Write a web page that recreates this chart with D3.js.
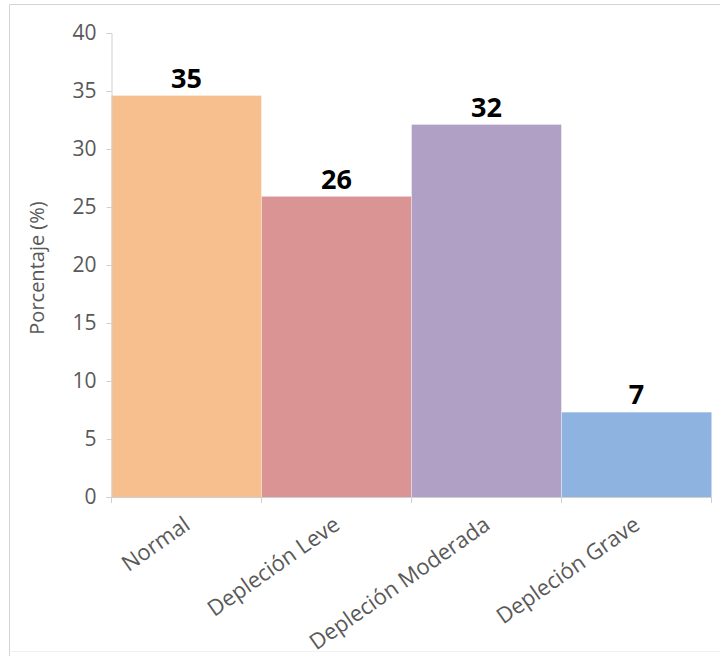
<!DOCTYPE html>
<html>
<head>
<meta charset="utf-8">
<script src="https://cdn.jsdelivr.net/npm/d3@7"></script>
<style>
  html, body { margin: 0; padding: 0; background: #fff; }
  svg { display: block; }
</style>
</head>
<body>
<svg id="chart" width="720" height="656"></svg>
<script>
const categories = ["Normal", "Depleción Leve", "Depleción Moderada", "Depleción Grave"];
const values = [34.6, 25.9, 32.1, 7.3];
const valueLabels = ["35", "26", "32", "7"];
const colors = ["#F8BF8E", "#D99493", "#B1A0C6", "#8EB3E1"];
const yTicks = [0, 5, 10, 15, 20, 25, 30, 35, 40];
const yTitle = "Porcentaje (%)";

const svg = d3.select("#chart");
const font = "'Open Sans', 'Noto Sans', sans-serif";

// outer frame
svg.append("line").attr("x1", 9.5).attr("x2", 720).attr("y1", 4.5).attr("y2", 4.5).attr("stroke", "#d4d4d4");
svg.append("line").attr("x1", 9.5).attr("x2", 9.5).attr("y1", 4.5).attr("y2", 656).attr("stroke", "#d4d4d4");
svg.append("line").attr("x1", 9.5).attr("x2", 720).attr("y1", 651.5).attr("y2", 651.5).attr("stroke", "#f0f0f0");

const x0 = 111.5, x1 = 711.5, yTop = 33, yBot = 497;
const x = d3.scaleBand().domain(categories).range([x0, x1]).padding(0);
const y = d3.scaleLinear().domain([0, 40]).range([yBot, yTop]);

// bars
svg.selectAll("rect.bar").data(categories).enter().append("rect")
  .attr("class", "bar")
  .attr("x", d => x(d))
  .attr("width", x.bandwidth())
  .attr("y", (d, i) => y(values[i]))
  .attr("height", (d, i) => y(0) - y(values[i]))
  .attr("fill", (d, i) => colors[i]);

// separating light lines between bars
svg.selectAll("line.sep").data(categories.slice(1)).enter().append("line")
  .attr("x1", d => x(d)).attr("x2", d => x(d))
  .attr("y1", (d, i) => Math.min(y(values[i]), y(values[i + 1])))
  .attr("y2", yBot)
  .attr("stroke", "#ffffff").attr("stroke-opacity", 0.4).attr("stroke-width", 1);

// y axis
const yAxis = d3.axisLeft(y).tickValues(yTicks).tickSize(5).tickPadding(10);
const gy = svg.append("g").attr("transform", `translate(${x0},0)`).call(yAxis);
gy.select(".domain").attr("stroke", "#d0d0d0");
gy.selectAll(".tick line").attr("stroke", "#d0d0d0");
gy.selectAll(".tick text").attr("fill", "#595959").style("font-family", font).style("font-size", "21px");

// x axis baseline with ticks at band edges
svg.append("line").attr("x1", x0).attr("x2", x1).attr("y1", yBot + 0.5).attr("y2", yBot + 0.5).attr("stroke", "#d0d0d0");
const edges = categories.map(d => x(d)).concat([x1]);
svg.selectAll("line.xtick").data(edges).enter().append("line")
  .attr("x1", d => d).attr("x2", d => d)
  .attr("y1", yBot).attr("y2", yBot + 6)
  .attr("stroke", "#d0d0d0");

// category labels
svg.selectAll("text.cat").data(categories).enter().append("text")
  .attr("class", "cat")
  .attr("transform", d => `translate(${x(d) + x.bandwidth() / 2 + 5},${yBot + 31}) rotate(-35)`)
  .attr("text-anchor", "end")
  .attr("fill", "#595959")
  .style("font-family", font)
  .style("font-size", "22px")
  .text(d => d);

// value labels
svg.selectAll("text.val").data(categories).enter().append("text")
  .attr("class", "val")
  .attr("x", d => x(d) + x.bandwidth() / 2)
  .attr("y", (d, i) => y(values[i]) - 8)
  .attr("text-anchor", "middle")
  .attr("fill", "#000")
  .style("font-family", font)
  .style("font-weight", "bold")
  .style("font-size", "27px")
  .text((d, i) => valueLabels[i]);

// y title
svg.append("text")
  .attr("transform", `translate(44,${(yTop + yBot) / 2 + 3}) rotate(-90)`)
  .attr("text-anchor", "middle")
  .attr("fill", "#595959")
  .style("font-family", font)
  .style("font-size", "20px")
  .text(yTitle);
</script>
</body>
</html>
